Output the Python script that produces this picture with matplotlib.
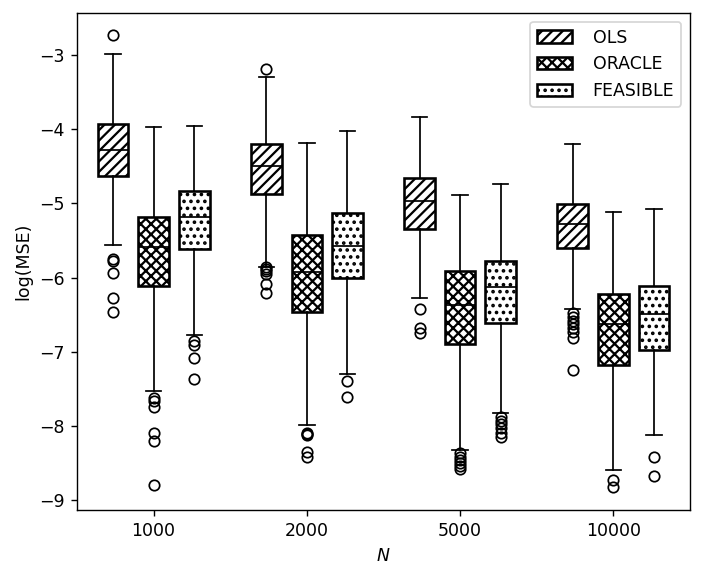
import numpy as np
import matplotlib
matplotlib.use("Agg")
import matplotlib.pyplot as plt
from matplotlib.patches import Patch

# valores (log(MSE))
grupos = ['1000', '2000', '5000', '10000']
metodos = ['OLS', 'ORACLE', 'FEASIBLE']
tramas = ['////', 'xxxx', '...']

ols_whishi = [-2.98, -3.29, -3.84, -4.20]
ols_q3 = [-3.93, -4.20, -4.66, -5.01]
ols_med = [-4.28, -4.49, -4.96, -5.28]
ols_q1 = [-4.63, -4.87, -5.35, -5.60]
ols_whislo = [-5.56, -5.86, -6.28, -6.43]
ols_fliers = [[-2.73, -5.75, -5.78, -5.94, -6.27, -6.47],
              [-3.18, -5.86, -5.88, -5.91, -5.95, -6.08, -6.21],
              [-6.43, -6.68, -6.75],
              [-6.48, -6.53, -6.58, -6.63, -6.68, -6.74, -6.82, -7.25]]

oracle_whishi = [-3.97, -4.19, -4.88, -5.12]
oracle_q3 = [-5.18, -5.43, -5.91, -6.22]
oracle_med = [-5.59, -5.92, -6.37, -6.62]
oracle_q1 = [-6.11, -6.47, -6.89, -7.18]
oracle_whislo = [-7.53, -7.99, -8.32, -8.60]
oracle_fliers = [[-7.63, -7.67, -7.74, -8.10, -8.21, -8.80],
                 [-8.09, -8.11, -8.12, -8.35, -8.42],
                 [-8.37, -8.42, -8.46, -8.50, -8.54, -8.58],
                 [-8.73, -8.83]]

feas_whishi = [-3.96, -4.02, -4.74, -5.08]
feas_q3 = [-4.83, -5.13, -5.78, -6.11]
feas_med = [-5.18, -5.57, -6.13, -6.49]
feas_q1 = [-5.62, -6.01, -6.61, -6.98]
feas_whislo = [-6.78, -7.30, -7.82, -8.13]
feas_fliers = [[-6.86, -6.91, -7.08, -7.37],
               [-7.39, -7.61],
               [-7.88, -7.93, -7.98, -8.03, -8.09, -8.15],
               [-8.42, -8.67]]

datos = [
    (ols_whislo, ols_q1, ols_med, ols_q3, ols_whishi, ols_fliers),
    (oracle_whislo, oracle_q1, oracle_med, oracle_q3, oracle_whishi, oracle_fliers),
    (feas_whislo, feas_q1, feas_med, feas_q3, feas_whishi, feas_fliers),
]

plt.rcParams['hatch.linewidth'] = 1.3

fig = plt.figure(figsize=(703 / 125, 579 / 125), dpi=125)
ax = fig.add_axes([0.1095, 0.1192, 0.872, 0.8584])

pos_base = np.arange(1, len(grupos) + 1)
desplaz = [-0.265, 0.0, 0.265]

for k, (wlo, q1, med, q3, whi, fl) in enumerate(datos):
    stats = []
    for i in range(len(grupos)):
        stats.append(dict(whislo=wlo[i], q1=q1[i], med=med[i], q3=q3[i],
                          whishi=whi[i], fliers=fl[i]))
    bp = ax.bxp(stats, positions=pos_base + desplaz[k], widths=0.2,
                patch_artist=True, manage_ticks=False,
                boxprops=dict(facecolor='white', edgecolor='black', linewidth=1.5),
                whiskerprops=dict(color='black', linewidth=1.0),
                capprops=dict(color='black', linewidth=1.0),
                medianprops=dict(color='black', linewidth=1.0),
                flierprops=dict(marker='o', markerfacecolor='none',
                                markeredgecolor='black', markersize=6))
    for caja in bp['boxes']:
        caja.set_hatch(tramas[k])

ax.set_xticks(pos_base)
ax.set_xticklabels(grupos)
ax.set_xlim(0.5, 4.5)
ax.set_ylim(-9.135, -2.43)
ax.set_xlabel('$N$')
ax.set_ylabel('log(MSE)')

handles = [Patch(facecolor='white', edgecolor='black', hatch=h, linewidth=1.5)
           for h in tramas]
ax.legend(handles, metodos, loc='upper right', handletextpad=1.2)

fig.savefig('out.png', dpi=125)
